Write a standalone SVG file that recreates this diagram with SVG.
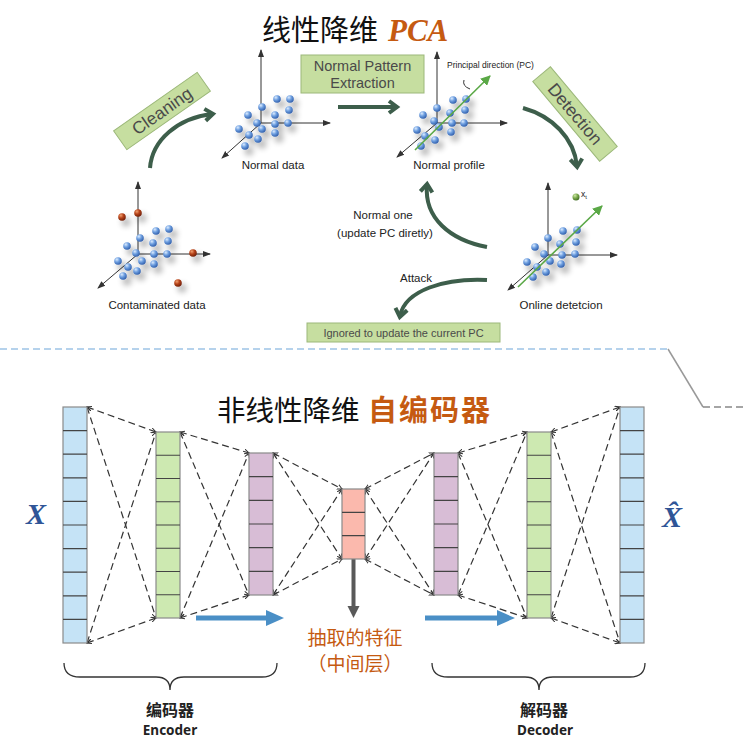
<svg xmlns="http://www.w3.org/2000/svg" width="744" height="740" viewBox="0 0 744 740">
<defs>
<radialGradient id="gb" cx="0.35" cy="0.3" r="0.75"><stop offset="0" stop-color="#dcecff"/><stop offset="0.45" stop-color="#6e9fe0"/><stop offset="1" stop-color="#2c5aa8"/></radialGradient>
<radialGradient id="gr" cx="0.35" cy="0.3" r="0.75"><stop offset="0" stop-color="#f0a070"/><stop offset="0.45" stop-color="#b8441a"/><stop offset="1" stop-color="#6a1c06"/></radialGradient>
<radialGradient id="gg" cx="0.35" cy="0.3" r="0.75"><stop offset="0" stop-color="#cfe8a8"/><stop offset="0.5" stop-color="#7aa84c"/><stop offset="1" stop-color="#3e6a22"/></radialGradient>
<filter id="sh" x="-50%" y="-50%" width="250%" height="250%"><feGaussianBlur in="SourceAlpha" stdDeviation="3"/><feOffset dx="4" dy="5"/><feComponentTransfer><feFuncA type="linear" slope="0.4"/></feComponentTransfer><feMerge><feMergeNode/><feMergeNode in="SourceGraphic"/></feMerge></filter>
<marker id="ax" markerWidth="8" markerHeight="8" refX="7" refY="4" orient="auto" markerUnits="userSpaceOnUse"><path d="M0,1 L8,4 L0,7 Z" fill="#333"/></marker>
<marker id="pc" markerWidth="10" markerHeight="10" refX="9" refY="5" orient="auto" markerUnits="userSpaceOnUse"><path d="M0,0 L10,5 L0,10 Z" fill="#5aa846"/></marker>
<marker id="cv" markerWidth="16" markerHeight="16" refX="10" refY="8" orient="auto" markerUnits="userSpaceOnUse"><path d="M3,2 L11,8 L3,14" fill="none" stroke="#3d5e4b" stroke-width="4" stroke-linejoin="miter"/></marker>
<marker id="dh" markerWidth="6" markerHeight="6" refX="5" refY="3" orient="auto-start-reverse" markerUnits="userSpaceOnUse"><path d="M0,0.5 L5,3 L0,5.5" fill="none" stroke="#333" stroke-width="1"/></marker>
<marker id="ba" markerWidth="20" markerHeight="20" refX="2" refY="10" orient="auto" markerUnits="userSpaceOnUse"><path d="M0,2 L18,10 L0,18 Z" fill="#4a8fc6"/></marker>
<marker id="ga" markerWidth="14" markerHeight="14" refX="2" refY="7" orient="auto" markerUnits="userSpaceOnUse"><path d="M0,1 L12,7 L0,13 Z" fill="#595959"/></marker>
</defs>
<style>
.axis{stroke:#333;stroke-width:1;fill:none;marker-end:url(#ax)}
.b{fill:url(#gb)}
.r{fill:url(#gr)}
.lbl{font-family:"Liberation Sans",Arial,sans-serif;font-size:11.5px;fill:#222;text-anchor:middle}
.box{fill:#c6dea0;stroke:#9cb87a;stroke-width:1}
.boxt{font-family:"Liberation Sans",Arial,sans-serif;fill:#4a4a4a;text-anchor:middle}
.flow{fill:none;stroke:#3d5e4b;stroke-width:4;marker-end:url(#cv)}
.dash{stroke:#333;stroke-width:1.2;stroke-dasharray:7,4;fill:none;marker-start:url(#dh);marker-end:url(#dh)}
.cell{stroke:#8a8a8a;stroke-width:1.2}
.sep{stroke:#444;stroke-width:1.2}
.cn{font-family:"Noto Sans CJK SC","Noto Sans",sans-serif}
.brace{fill:none;stroke:#333;stroke-width:1.3}
</style>
<rect width="744" height="740" fill="#ffffff"/>

<!-- Titles -->
<g id="title-pca">
<text x="262" y="41" class="cn" font-size="29" fill="#111">线性降维</text>
<text x="388" y="41" font-family="Liberation Serif,serif" font-weight="bold" font-style="italic" font-size="31" fill="#c55a11">PCA</text>
</g>

<!-- Contaminated data -->
<g id="contaminated-data">
<line x1="138" y1="254" x2="138" y2="182" class="axis"/>
<line x1="138" y1="254" x2="210" y2="254" class="axis"/>
<line x1="138" y1="254" x2="98" y2="288" class="axis"/>
<g filter="url(#sh)">
<circle class="b" cx="156" cy="231" r="3.8"/><circle class="b" cx="169" cy="229" r="3.8"/><circle class="b" cx="140" cy="238" r="3.8"/><circle class="b" cx="153" cy="243" r="3.8"/><circle class="b" cx="168" cy="241" r="3.8"/><circle class="b" cx="127" cy="246" r="3.8"/><circle class="b" cx="136" cy="253" r="3.8"/><circle class="b" cx="154" cy="254" r="3.8"/><circle class="b" cx="167" cy="254" r="3.8"/><circle class="b" cx="118" cy="261" r="3.8"/><circle class="b" cx="142" cy="261" r="3.8"/><circle class="b" cx="154" cy="264" r="3.8"/><circle class="b" cx="128" cy="267" r="3.8"/><circle class="b" cx="137" cy="271" r="3.8"/><circle class="b" cx="123" cy="276" r="3.8"/>
<circle class="r" cx="122" cy="217" r="3.8"/><circle class="r" cx="138" cy="213" r="3.8"/><circle class="r" cx="193" cy="253" r="3.8"/><circle class="r" cx="178" cy="283" r="3.8"/>
</g>
<text x="157" y="309" class="lbl">Contaminated data</text>
</g>

<!-- Normal data -->
<g id="normal-data">
<line x1="261" y1="123" x2="261" y2="50" class="axis"/>
<line x1="261" y1="123" x2="330" y2="123" class="axis"/>
<line x1="261" y1="123" x2="222" y2="158" class="axis"/>
<g filter="url(#sh)">
<circle class="b" cx="277" cy="99" r="3.8"/><circle class="b" cx="290" cy="99" r="3.8"/><circle class="b" cx="262" cy="107" r="3.8"/><circle class="b" cx="289" cy="110" r="3.8"/><circle class="b" cx="248" cy="115" r="3.8"/><circle class="b" cx="275" cy="115" r="3.8"/><circle class="b" cx="257" cy="123" r="3.8"/><circle class="b" cx="275" cy="124" r="3.8"/><circle class="b" cx="288" cy="123" r="3.8"/><circle class="b" cx="239" cy="129" r="3.8"/><circle class="b" cx="262" cy="129" r="3.8"/><circle class="b" cx="275" cy="133" r="3.8"/><circle class="b" cx="249" cy="135" r="3.8"/><circle class="b" cx="258" cy="139" r="3.8"/><circle class="b" cx="245" cy="146" r="3.8"/>
</g>
<text x="273" y="169" class="lbl">Normal data</text>
</g>

<!-- Normal profile -->
<g id="normal-profile">
<line x1="437" y1="123" x2="437" y2="52" class="axis"/>
<line x1="437" y1="123" x2="507" y2="123" class="axis"/>
<line x1="437" y1="123" x2="397" y2="157" class="axis"/>
<g filter="url(#sh)">
<circle class="b" cx="453" cy="100" r="3.8"/><circle class="b" cx="466" cy="99" r="3.8"/><circle class="b" cx="437" cy="108" r="3.8"/><circle class="b" cx="450" cy="113" r="3.8"/><circle class="b" cx="465" cy="110" r="3.8"/><circle class="b" cx="423" cy="115" r="3.8"/><circle class="b" cx="434" cy="121" r="3.8"/><circle class="b" cx="452" cy="123" r="3.8"/><circle class="b" cx="464" cy="123" r="3.8"/><circle class="b" cx="417" cy="130" r="3.8"/><circle class="b" cx="439" cy="127" r="3.8"/><circle class="b" cx="451" cy="132" r="3.8"/><circle class="b" cx="425" cy="136" r="3.8"/><circle class="b" cx="435" cy="140" r="3.8"/><circle class="b" cx="421" cy="146" r="3.8"/>
</g>
<line x1="415" y1="150" x2="490" y2="76" stroke="#5aa846" stroke-width="1.6" marker-end="url(#pc)"/>
<path d="M470,89 Q462,86 464,80" fill="none" stroke="#333" stroke-width="1"/>
<text x="447" y="68" font-family="Liberation Sans,Arial,sans-serif" font-size="8.5" fill="#222">Principal direction (PC)</text>
<text x="449" y="169" class="lbl">Normal profile</text>
</g>

<!-- Online detection -->
<g id="online-detection">
<line x1="548" y1="255" x2="548" y2="183" class="axis"/>
<line x1="548" y1="255" x2="617" y2="255" class="axis"/>
<line x1="548" y1="255" x2="508" y2="290" class="axis"/>
<g filter="url(#sh)">
<circle class="b" cx="563" cy="231" r="3.8"/><circle class="b" cx="577" cy="230" r="3.8"/><circle class="b" cx="548" cy="238" r="3.8"/><circle class="b" cx="560" cy="244" r="3.8"/><circle class="b" cx="576" cy="242" r="3.8"/><circle class="b" cx="535" cy="247" r="3.8"/><circle class="b" cx="544" cy="254" r="3.8"/><circle class="b" cx="562" cy="255" r="3.8"/><circle class="b" cx="575" cy="254" r="3.8"/><circle class="b" cx="527" cy="262" r="3.8"/><circle class="b" cx="550" cy="261" r="3.8"/><circle class="b" cx="561" cy="264" r="3.8"/><circle class="b" cx="537" cy="267" r="3.8"/><circle class="b" cx="546" cy="272" r="3.8"/><circle class="b" cx="533" cy="277" r="3.8"/>
</g>
<line x1="518" y1="287" x2="602" y2="206" stroke="#5aa846" stroke-width="1.6" marker-end="url(#pc)"/>
<circle cx="576" cy="197" r="3.5" fill="url(#gg)"/>
<text x="581" y="197" font-family="Liberation Sans,Arial,sans-serif" font-size="8.5" fill="#222">x<tspan font-size="6" dy="2">t</tspan></text>
<text x="561" y="309" class="lbl">Online detetcion</text>
</g>

<!-- Step boxes -->
<g id="cleaning">
<g transform="translate(162,111) rotate(-35)">
<rect x="-51" y="-11.5" width="102" height="23" class="box"/>
<text x="0" y="6" class="boxt" font-size="17.5">Cleaning</text>
</g>
</g>
<g id="normal-pattern-extraction">
<rect x="301" y="55" width="123" height="38" class="box"/>
<text x="362.5" y="71" class="boxt" font-size="14.5">Normal Pattern</text>
<text x="362.5" y="88" class="boxt" font-size="14.5">Extraction</text>
</g>
<g id="detection">
<g transform="translate(575,114) rotate(50)">
<rect x="-52" y="-11.5" width="104" height="23" class="box"/>
<text x="0" y="6" class="boxt" font-size="17.5">Detection</text>
</g>
</g>
<g id="ignored">
<rect x="307" y="323" width="193" height="19" class="box"/>
<text x="403.5" y="337" class="boxt" font-size="11" fill="#333">Ignored to update the current PC</text>
</g>

<!-- Top connectors -->
<g id="pca-connectors">
<path d="M150,168 C152,140 178,118 212,114" class="flow"/>
<line x1="338" y1="107" x2="396" y2="107" class="flow"/>
<path d="M523,108 C552,116 574,138 577,166" class="flow"/>
<path d="M487,247 C450,240 424,218 427,185" class="flow"/>
<path d="M487,280 C445,278 405,290 400,316" class="flow"/>
<text x="383" y="219" class="lbl" font-size="11">Normal one</text>
<text x="385" y="237" class="lbl" font-size="11">(update PC diretly)</text>
<text x="416" y="282" class="lbl" font-size="11">Attack</text>
</g>

<!-- Separator -->
<g id="separator">
<line x1="0" y1="349" x2="668" y2="349" stroke="#9dc3e6" stroke-width="1.5" stroke-dasharray="7,4"/>
<line x1="668" y1="349" x2="703" y2="407" stroke="#999" stroke-width="1.5"/>
<line x1="703" y1="407" x2="744" y2="407" stroke="#888" stroke-width="1.5" stroke-dasharray="7,4"/>
</g>

<!-- Autoencoder title -->
<g id="title-ae">
<text x="217" y="421" class="cn" font-size="28.5" fill="#111">非线性降维</text>
<text x="368" y="421" class="cn" font-size="29" font-weight="bold" fill="#c55a11" letter-spacing="2">自编码器</text>
</g>

<!-- Layer connectors -->
<g id="ae-connectors">
<line x1="87" y1="407" x2="156" y2="432" class="dash"/><line x1="87" y1="407" x2="156" y2="618" class="dash"/><line x1="87" y1="643" x2="156" y2="432" class="dash"/><line x1="87" y1="643" x2="156" y2="618" class="dash"/>
<line x1="180" y1="432" x2="249" y2="453" class="dash"/><line x1="180" y1="432" x2="249" y2="595" class="dash"/><line x1="180" y1="618" x2="249" y2="453" class="dash"/><line x1="180" y1="618" x2="249" y2="595" class="dash"/>
<line x1="273" y1="453" x2="342" y2="489" class="dash"/><line x1="273" y1="453" x2="342" y2="559" class="dash"/><line x1="273" y1="595" x2="342" y2="489" class="dash"/><line x1="273" y1="595" x2="342" y2="559" class="dash"/>
<line x1="365" y1="489" x2="434" y2="453" class="dash"/><line x1="365" y1="489" x2="434" y2="595" class="dash"/><line x1="365" y1="559" x2="434" y2="453" class="dash"/><line x1="365" y1="559" x2="434" y2="595" class="dash"/>
<line x1="458" y1="453" x2="527" y2="432" class="dash"/><line x1="458" y1="453" x2="527" y2="618" class="dash"/><line x1="458" y1="595" x2="527" y2="432" class="dash"/><line x1="458" y1="595" x2="527" y2="618" class="dash"/>
<line x1="551" y1="432" x2="620" y2="407" class="dash"/><line x1="551" y1="432" x2="620" y2="643" class="dash"/><line x1="551" y1="618" x2="620" y2="407" class="dash"/><line x1="551" y1="618" x2="620" y2="643" class="dash"/>
<line x1="196" y1="618" x2="268" y2="618" stroke="#4a8fc6" stroke-width="5" marker-end="url(#ba)"/>
<line x1="425" y1="618" x2="499" y2="618" stroke="#4a8fc6" stroke-width="5" marker-end="url(#ba)"/>
<line x1="353.5" y1="559" x2="353.5" y2="608" stroke="#595959" stroke-width="4" marker-end="url(#ga)"/>
</g>

<!-- Layers -->
<g id="layer-input">
<rect x="63" y="407" width="24" height="236" fill="#c5e3f6" class="cell"/>
<path class="sep" d="M63,430.6H87M63,454.2H87M63,477.8H87M63,501.4H87M63,525H87M63,548.6H87M63,572.2H87M63,595.8H87M63,619.4H87"/>
</g>
<g id="layer-enc1">
<rect x="156" y="432" width="24" height="186" fill="#cde9b1" class="cell"/>
<path class="sep" d="M156,455.25H180M156,478.5H180M156,501.75H180M156,525H180M156,548.25H180M156,571.5H180M156,594.75H180"/>
</g>
<g id="layer-enc2">
<rect x="249" y="453" width="24" height="142" fill="#d8bdd6" class="cell"/>
<path class="sep" d="M249,476.67H273M249,500.33H273M249,524H273M249,547.67H273M249,571.33H273"/>
</g>
<g id="layer-code">
<rect x="342" y="489" width="23" height="70" fill="#fbb9ad" class="cell"/>
<path class="sep" d="M342,512.33H365M342,535.67H365"/>
</g>
<g id="layer-dec1">
<rect x="434" y="453" width="24" height="142" fill="#d8bdd6" class="cell"/>
<path class="sep" d="M434,476.67H458M434,500.33H458M434,524H458M434,547.67H458M434,571.33H458"/>
</g>
<g id="layer-dec2">
<rect x="527" y="432" width="24" height="186" fill="#cde9b1" class="cell"/>
<path class="sep" d="M527,455.25H551M527,478.5H551M527,501.75H551M527,525H551M527,548.25H551M527,571.5H551M527,594.75H551"/>
</g>
<g id="layer-output">
<rect x="620" y="407" width="24" height="236" fill="#c5e3f6" class="cell"/>
<path class="sep" d="M620,430.6H644M620,454.2H644M620,477.8H644M620,501.4H644M620,525H644M620,548.6H644M620,572.2H644M620,595.8H644M620,619.4H644"/>
</g>

<!-- Labels -->
<g id="x-in"><text x="26" y="524" font-family="Liberation Serif,serif" font-weight="bold" font-style="italic" font-size="30" fill="#2f5597">X</text></g>
<g id="x-out"><text x="662" y="527" font-family="Liberation Serif,serif" font-weight="bold" font-style="italic" font-size="30" fill="#2f5597">X&#x302;</text></g>
<g id="feature-label">
<text x="355" y="645" class="cn" font-size="19" fill="#c55a11" text-anchor="middle">抽取的特征</text>
<text x="355" y="671" class="cn" font-size="19" fill="#c55a11" text-anchor="middle">（中间层）</text>
</g>
<g id="encoder">
<path class="brace" d="M64,663 Q64,677 80,677 L156,677 Q170,677 170,690 Q170,677 184,677 L262,677 Q277,677 277,663"/>
<text x="170" y="716" class="cn" font-size="16" font-weight="bold" fill="#222" text-anchor="middle">编码器</text>
<text x="170" y="735" font-family="Noto Sans,Liberation Sans,sans-serif" font-size="13.5" font-weight="bold" fill="#222" text-anchor="middle">Encoder</text>
</g>
<g id="decoder">
<path class="brace" d="M432,663 Q432,677 448,677 L525,677 Q539,677 539,690 Q539,677 553,677 L630,677 Q645,677 645,663"/>
<text x="544" y="716" class="cn" font-size="16" font-weight="bold" fill="#222" text-anchor="middle">解码器</text>
<text x="545" y="735" font-family="Noto Sans,Liberation Sans,sans-serif" font-size="13.5" font-weight="bold" fill="#222" text-anchor="middle">Decoder</text>
</g>
</svg>
